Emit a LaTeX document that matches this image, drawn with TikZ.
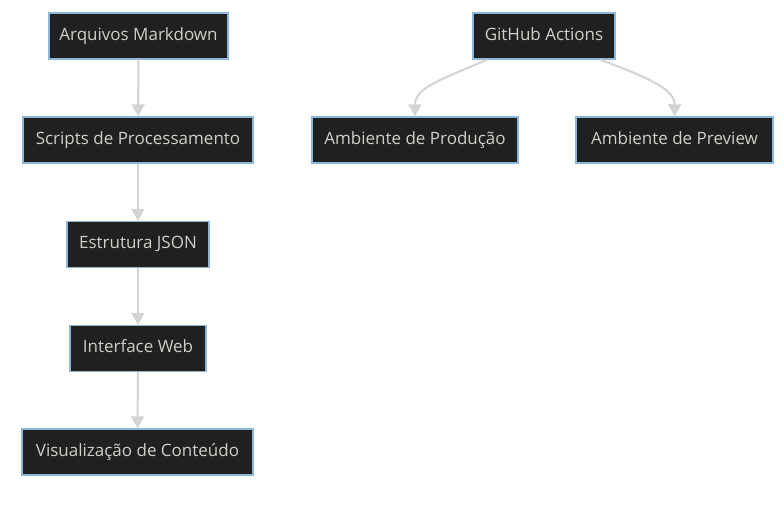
\documentclass[tikz,border=0pt]{standalone}
\usepackage{fontspec}
\setmainfont{Open Sans}
\usetikzlibrary{arrows.meta}
\definecolor{boxfill}{HTML}{1F2020}
\definecolor{boxline}{HTML}{8FB6DA}
\definecolor{txt}{HTML}{D0D0C8}
\definecolor{edgecol}{HTML}{D3D3D3}
\tikzset{
  box/.style={draw=boxline, fill=boxfill, line width=1.4pt, text=txt, inner sep=0pt,
    minimum height=46pt, text height=12.5pt, text depth=4pt,
    font=\fontsize{17}{20}\selectfont, anchor=center},
  edge/.style={draw=edgecol, line width=2pt, -{Triangle[length=12pt,width=13pt]}},
}
\begin{document}
\begin{tikzpicture}[x=1pt,y=-1pt]
\useasboundingbox (0,0) rectangle (784,514);
\node[box, minimum width=179pt] (A) at (138.5,36) {Arquivos Markdown};
\node[box, minimum width=230pt] (B) at (138,140) {Scripts de Processamento};
\node[box, minimum width=142pt] (C) at (138,244.5) {Estrutura JSON};
\node[box, minimum width=136pt] (D) at (138,348.5) {Interface Web};
\node[box, minimum width=231pt] (E) at (137.5,452) {Visualização de Conteúdo};
\node[box, minimum width=142pt] (G) at (544,36) {GitHub Actions};
\node[box, minimum width=206pt] (P) at (415,140) {Ambiente de Produção};
\node[box, minimum width=197pt] (R) at (674.5,140) {Ambiente de Preview};
\draw[edge] (A) -- (B);
\draw[edge] (B) -- (C);
\draw[edge] (C) -- (D);
\draw[edge] (D) -- (E);
\draw[edge] ([xshift=-57pt]G.south) .. controls (440,80) and (415,88) .. (P.north);
\draw[edge] ([xshift=56pt]G.south) .. controls (650,78) and (675,90) .. (R.north);
\end{tikzpicture}
\end{document}
